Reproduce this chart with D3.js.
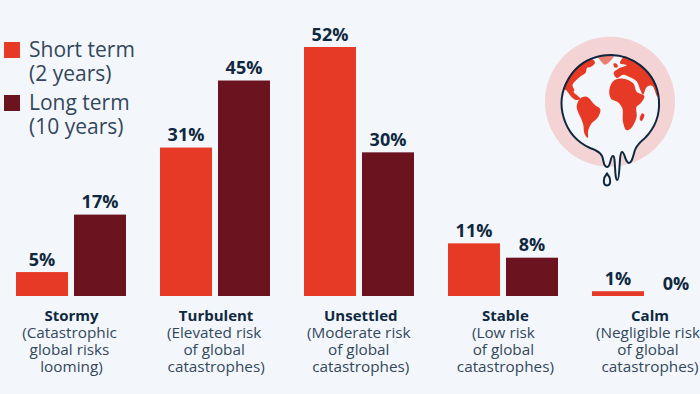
<!DOCTYPE html>
<html>
<head>
<meta charset="utf-8">
<script src="https://cdn.jsdelivr.net/npm/d3@7"></script>
<style>
  html, body { margin: 0; padding: 0; background: #f3f7fb; overflow: hidden; }
  svg { display: block; font-family: "Open Sans", sans-serif; }
</style>
</head>
<body>
<script>
const categories = ["Stormy", "Turbulent", "Unsettled", "Stable", "Calm"];
const subLabels = [
  ["(Catastrophic", "global risks", "looming)"],
  ["(Elevated risk", "of global", "catastrophes)"],
  ["(Moderate risk", "of global", "catastrophes)"],
  ["(Low risk", "of global", "catastrophes)"],
  ["(Negligible risk", "of global", "catastrophes)"],
];
const seriesNames = ["Short term", "Long term"];
const seriesNotes = ["(2 years)", "(10 years)"];
const shortTerm = [5, 31, 52, 11, 1];
const longTerm = [17, 45, 30, 8, 0];

const colors = ["#e63a26", "#6b1420"];
const darkText = "#10283f";
const bodyText = "#33475b";
const pageColor = "#f3f7fb";

const width = 700;
const height = 394;
const baseline = 296;

const xScale = d3
  .scaleBand()
  .domain(categories)
  .range([16, 702])
  .paddingInner(34 / 144);

const xInner = d3
  .scaleBand()
  .domain(seriesNames)
  .range([0, xScale.bandwidth()])
  .paddingInner(6 / 58);

// the labels sit on a slightly wider spacing than the bars
const xLabel = d3.scalePoint().domain(categories).range([71.5, 650]);

const yScale = d3.scaleLinear().domain([0, 52]).range([baseline, 47]);

const svg = d3
  .select("body")
  .append("svg")
  .attr("width", width)
  .attr("height", height);

// bars and value labels
const groups = svg
  .selectAll("g.cat")
  .data(categories)
  .enter()
  .append("g")
  .attr("class", "cat")
  .attr("transform", (d) => `translate(${xScale(d)} 0)`);

const rows = categories.map((c, i) => [
  { s: seriesNames[0], v: shortTerm[i], k: 0 },
  { s: seriesNames[1], v: longTerm[i], k: 1 },
]);

const bars = groups
  .selectAll("g.bar")
  .data((d, i) => rows[i])
  .enter()
  .append("g")
  .attr("class", "bar");

bars
  .append("rect")
  .attr("x", (d) => xInner(d.s))
  .attr("y", (d) => yScale(d.v))
  .attr("width", xInner.bandwidth())
  .attr("height", (d) => baseline - yScale(d.v))
  .attr("fill", (d) => colors[d.k]);

bars
  .append("text")
  .attr("x", (d) => xInner(d.s) + xInner.bandwidth() / 2)
  .attr("y", (d) => yScale(d.v) - 6.5)
  .attr("text-anchor", "middle")
  .attr("font-size", 18)
  .attr("font-weight", 700)
  .attr("fill", darkText)
  .text((d) => `${d.v}%`);

// category labels
const labels = svg
  .selectAll("g.label")
  .data(categories)
  .enter()
  .append("g")
  .attr("class", "label")
  .attr("text-anchor", "middle")
  .attr("transform", (d) => `translate(${xLabel(d)} 0)`);

labels
  .append("text")
  .attr("y", 321)
  .attr("font-size", 15)
  .attr("font-weight", 700)
  .attr("fill", darkText)
  .text((d) => d);

const lineOffsets = [-2, -2, 0];

labels.each(function (d, i) {
  d3.select(this)
    .selectAll("text.sub")
    .data(subLabels[i])
    .enter()
    .append("text")
    .attr("class", "sub")
    .attr("x", (_, j) => lineOffsets[j])
    .attr("y", (_, j) => 338 + j * 17)
    .attr("font-size", 15.3)
    .attr("fill", bodyText)
    .text((t) => t);
});

// legend
const legend = svg
  .selectAll("g.legend")
  .data(seriesNames)
  .enter()
  .append("g")
  .attr("class", "legend")
  .attr("transform", (d, i) => `translate(4 ${42 + i * 53})`);

legend
  .append("rect")
  .attr("width", 16)
  .attr("height", 16)
  .attr("fill", (d, i) => colors[i]);

legend
  .append("text")
  .attr("x", 25)
  .attr("y", 15)
  .attr("font-size", 21)
  .attr("fill", bodyText)
  .text((d) => d);

legend
  .append("text")
  .attr("x", 25)
  .attr("y", 39)
  .attr("font-size", 21)
  .attr("fill", bodyText)
  .text((d, i) => seriesNotes[i]);

// melting globe icon, traced by hand
const icon = svg.append("g");

icon.append("circle").attr("cx", 610).attr("cy", 101.7).attr("r", 65).attr("fill", "#f3d3d3");

const outline =
  "M590 148 A48.7 48.7 0 1 1 645 138 " +
  "C640 142 637 145 635 150 C633 156 632 163 629 163 C625 163 625 152 622 152 " +
  "C619 152 620 180 617.5 180 C614 180 616 156 613 156 C610 156 611 167 607 167 " +
  "C603 167 604 160 602 156 C600 152 596 150 590 148 Z";

icon.append("path").attr("d", outline).attr("fill", pageColor);

svg
  .append("clipPath")
  .attr("id", "globe-clip")
  .append("circle")
  .attr("cx", 164)
  .attr("cy", 159)
  .attr("r", 146);

const land = [
  // north america
  [[28, 118], [-10, 60], [40, 0], [105, 22], [120, 38], [108, 50], [96, 54], [92, 68], [78, 78], [64, 90], [52, 106], [58, 122], [40, 122]],
  // central america
  [[32, 112], [50, 106], [56, 126], [76, 146], [62, 150], [44, 134]],
  // greenland
  [[130, 20], [150, 2], [180, 8], [172, 26], [150, 44], [138, 34]],
  // south america
  [[65, 170], [75, 146], [95, 140], [120, 165], [136, 178], [130, 200], [110, 220], [100, 240], [98, 264], [88, 250], [85, 225], [78, 205]],
  // eurasia
  [[310, 142], [345, 90], [300, 0], [230, 0], [200, 28], [195, 40], [215, 46], [190, 56], [176, 68], [185, 84], [205, 74], [225, 82], [245, 94], [256, 120], [264, 134], [276, 110], [292, 108]],
  // britain
  [[176, 40], [186, 42], [188, 52], [178, 52]],
  // africa
  [[163, 120], [176, 92], [205, 86], [235, 100], [245, 125], [268, 138], [257, 160], [244, 172], [245, 200], [227, 236], [214, 240], [204, 215], [202, 175], [188, 156], [168, 146]],
  // madagascar
  [[262, 190], [268, 195], [260, 213], [254, 208]],
];

const landLine = d3.line().curve(d3.curveCatmullRomClosed.alpha(0.5));

icon
  .append("g")
  .attr("transform", "translate(555 50) scale(0.3333)")
  .attr("clip-path", "url(#globe-clip)")
  .selectAll("path")
  .data(land)
  .enter()
  .append("path")
  .attr("d", (d) => landLine(d))
  .attr("fill", (d, i) => (i === 2 ? "#ec7f70" : colors[0]));

icon
  .append("path")
  .attr("d", outline)
  .attr("fill", "none")
  .attr("stroke", darkText)
  .attr("stroke-width", 2);

icon
  .append("path")
  .attr("d", "M607 173.5 C603 178 602.5 185 607 185.5 C611.5 185 611 178 607 173.5 Z")
  .attr("fill", pageColor)
  .attr("stroke", darkText)
  .attr("stroke-width", 2);
</script>
</body>
</html>
